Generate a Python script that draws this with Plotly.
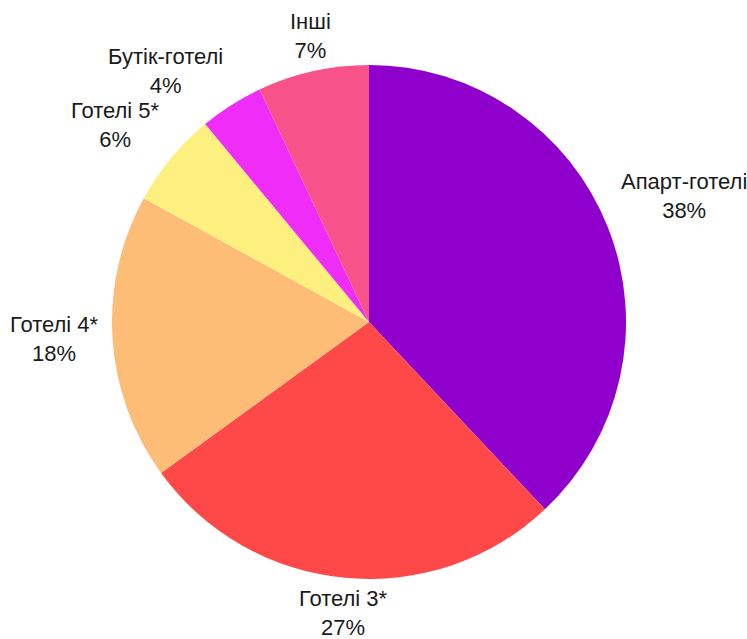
import math
import plotly.graph_objects as go

labels = ["Апарт-готелі", "Готелі 3*", "Готелі 4*", "Готелі 5*", "Бутік-готелі", "Інші"]
values = [38, 27, 18, 6, 4, 7]
colors = ["#9000CD", "#FF4848", "#FDBD77", "#FEF07F", "#F02CF8", "#F8528B"]

W, H = 747, 639
# pie placement in pixels (centre and radius)
CX, CY, R = 369, 322, 257
GAP_X, GAP_Y = 12, 6
FONT = dict(family="Liberation Sans", size=22, color="#1a1a1a")

fig = go.Figure(go.Pie(
    labels=labels,
    values=values,
    sort=False,
    direction="clockwise",
    rotation=0,
    marker=dict(colors=colors, line=dict(width=0)),
    textinfo="none",
    hoverinfo="label+percent",
    showlegend=False,
    domain=dict(x=[(CX - R) / W, (CX + R) / W],
                y=[1 - (CY + R) / H, 1 - (CY - R) / H]),
))

# outside labels placed along each slice's mid-angle
total = sum(values)
cum = 0
for lab, v in zip(labels, values):
    mid = (cum + v / 2) / total * 2 * math.pi
    cum += v
    s, c = math.sin(mid), math.cos(mid)
    px = CX + (R + GAP_X) * s
    py = CY - (R + GAP_Y) * c
    xanchor = "left" if s > 0.3 else ("right" if s < -0.3 else "center")
    yanchor = "bottom" if c > 0.3 else ("top" if c < -0.3 else "middle")
    fig.add_annotation(
        x=px / W, y=1 - py / H, xref="paper", yref="paper",
        text=f"{lab}<br>{round(v / total * 100)}%",
        showarrow=False, xanchor=xanchor, yanchor=yanchor,
        align="center", font=FONT,
    )

fig.update_layout(
    width=W, height=H,
    margin=dict(l=0, r=0, t=0, b=0),
    paper_bgcolor="white",
    plot_bgcolor="white",
)

fig.write_html("out.html")
